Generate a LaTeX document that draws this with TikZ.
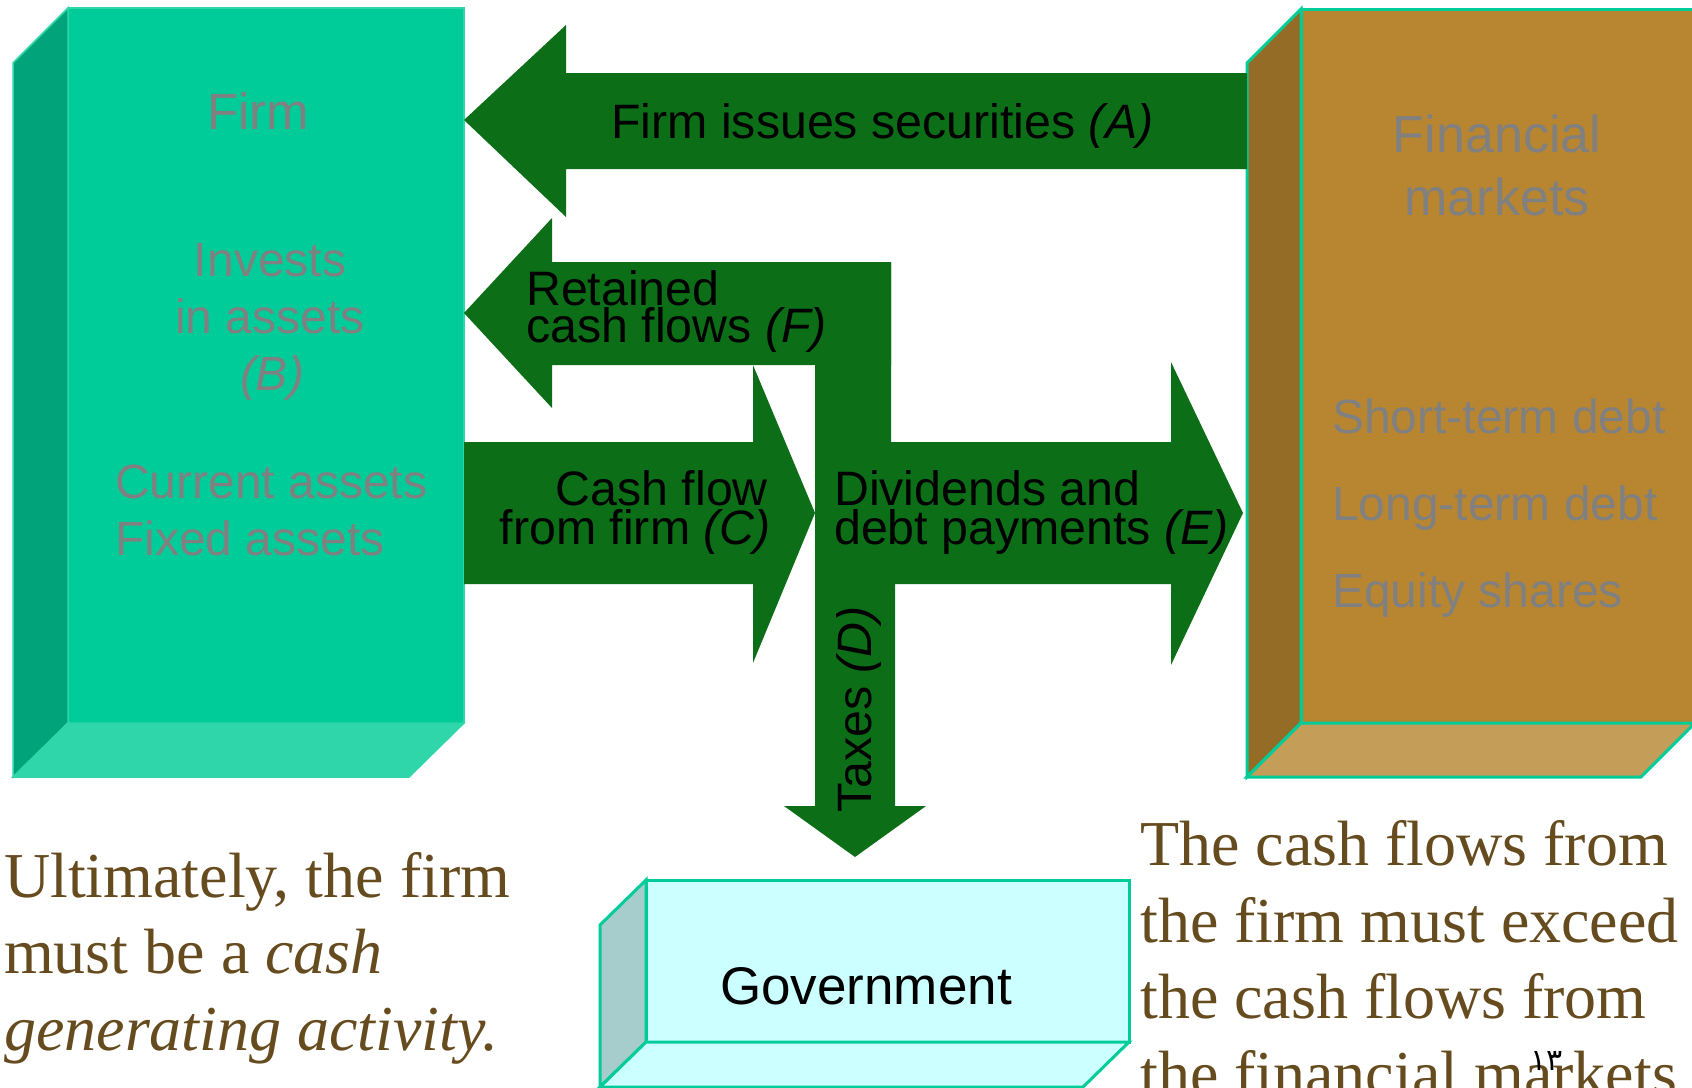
\documentclass[tikz,border=0pt]{standalone}
\usepackage{fontspec}
\setmainfont{Liberation Serif}
\newfontfamily\arialf{Liberation Sans}
\newfontfamily\arabicf[Script=Arabic]{DejaVu Sans}
\definecolor{arrgreen}{RGB}{12,110,22}
\definecolor{firmfront}{RGB}{0,204,153}
\definecolor{firmside}{RGB}{0,163,122}
\definecolor{firmbottom}{RGB}{46,214,170}
\definecolor{fmfront}{RGB}{184,134,48}
\definecolor{fmside}{RGB}{148,108,38}
\definecolor{fmbottom}{RGB}{196,158,88}
\definecolor{govfront}{RGB}{204,255,255}
\definecolor{govside}{RGB}{166,204,204}
\definecolor{tealline}{RGB}{0,204,153}
\definecolor{txtgray}{RGB}{128,128,128}
\definecolor{notebrown}{RGB}{101,75,30}
\tikzset{
  arr/.style={fill=arrgreen, draw=none},
  atxt/.style={font=\arialf\fontsize{48.3}{39}\selectfont, text=black, inner sep=0pt},
  gtxt/.style={font=\arialf\fontsize{48}{57}\selectfont, text=txtgray, inner sep=0pt},
  ntxt/.style={font=\fontsize{64}{77}\selectfont, text=notebrown, inner sep=0pt},
  firmedge/.style={draw=firmbottom, line width=1.5pt, line join=miter},
  tealedge/.style={draw=tealline, line width=3pt, line join=miter},
}
\begin{document}
\begin{tikzpicture}[x=1pt,y=-1pt]
\useasboundingbox (0,0) rectangle (1692,1087);
\begin{scope}
\clip (0,0) rectangle (1692,1087);
% ---------------- Firm box
\fill[firmfront] (68,8) rectangle (464,723);
\filldraw[fill=firmside, firmedge] (13,63) -- (68,8) -- (68,723) -- (13,777) -- cycle;
\filldraw[fill=firmbottom, firmedge] (13,777) -- (68,723) -- (464,723) -- (409,777) -- cycle;
\draw[firmedge] (68,8) -- (464,8) -- (464,723);
% ---------------- Financial markets box
\filldraw[fill=fmfront, tealedge] (1301,9) rectangle (1750,723);
\filldraw[fill=fmside, tealedge] (1247,63) -- (1301,9) -- (1301,723) -- (1247,777) -- cycle;
\filldraw[fill=fmbottom, tealedge] (1247,777) -- (1301,723) -- (1695,723) -- (1641,777) -- cycle;
% ---------------- Government box
\filldraw[fill=govfront, tealedge] (646,880) rectangle (1129,1042);
\filldraw[fill=govside, tealedge] (600,925) -- (646,880) -- (646,1042) -- (600,1087) -- cycle;
\filldraw[fill=govfront, tealedge] (600,1087) -- (646,1042) -- (1129,1042) -- (1083,1087) -- cycle;
% ---------------- Block arrows
\fill[arr] (1247,73) -- (566,73) -- (566,25) -- (464,120) -- (566,217) -- (566,169) -- (1247,169) -- cycle;
\fill[arr] (891,262) -- (552,262) -- (552,218) -- (464,313) -- (552,408) -- (552,365) -- (891,365) -- cycle;
\fill[arr] (815,262) -- (891,262) -- (891,584) -- (895,584) -- (895,806) -- (926,806) -- (855,857) -- (784,806) -- (815,806) -- cycle;
\fill[arr] (464,442) -- (753,442) -- (753,365) -- (815,513) -- (753,663) -- (753,584) -- (464,584) -- cycle;
\fill[arr] (815,442) -- (1171,442) -- (1171,362) -- (1243,513) -- (1171,665) -- (1171,584) -- (815,584) -- cycle;
% ---------------- Arrow labels
\node[atxt, anchor=base west] (tA) at (611,138) {Firm issues securities \textit{(A)}};
\node[atxt, anchor=base west] (tF1) at (526,305) {Retained};
\node[atxt, anchor=base west] (tF2) at (526,342) {cash flows \textit{(F)}};
\node[atxt, anchor=base east] (tC1) at (768,505) {Cash flow};
\node[atxt, anchor=base east] (tC2) at (771,544) {from firm \textit{(C)}};
\node[atxt, anchor=base west] (tE1) at (834,505) {Dividends and};
\node[atxt, anchor=base west] (tE2) at (834,544) {debt payments \textit{(E)}};
\node[atxt, anchor=base west, rotate=90] (tD) at (871,813) {Taxes \textit{(D)}};
\node[atxt, font=\arialf\fontsize{53}{60}\selectfont, anchor=base west] (gov) at (720,1004) {Government};
% ---------------- Box texts
\node[gtxt, font=\arialf\fontsize{51}{57}\selectfont, anchor=base] (firm) at (258,129) {Firm};
\node[gtxt, anchor=base] (inv1) at (270,276) {Invests};
\node[gtxt, anchor=base] (inv2) at (270,333) {in assets};
\node[gtxt, anchor=base] (inv3) at (272,390) {\textit{(B)}};
\node[gtxt, anchor=base west] (ca) at (115,498) {Current assets};
\node[gtxt, anchor=base west] (fa) at (115,555) {Fixed assets};
\node[gtxt, font=\arialf\fontsize{52}{63}\selectfont, anchor=base] (fm1) at (1497,152) {Financial};
\node[gtxt, font=\arialf\fontsize{52}{63}\selectfont, anchor=base] (fm2) at (1497,215) {markets};
\node[gtxt, anchor=base west] (std) at (1332,433) {Short-term debt};
\node[gtxt, anchor=base west] (ltd) at (1332,520) {Long-term debt};
\node[gtxt, anchor=base west] (eq) at (1332,607) {Equity shares};
% ---------------- Notes
\node[ntxt, anchor=base west] (n1) at (4,897) {Ultimately, the firm};
\node[ntxt, anchor=base west] (n2) at (4,973) {must be a \textit{cash}};
\node[ntxt, anchor=base west] (n3) at (4,1050) {\textit{generating activity.}};
\node[ntxt, anchor=base west] (m1) at (1140,865) {The cash flows from};
\node[ntxt, anchor=base west] (m2) at (1140,942) {the firm must exceed};
\node[ntxt, anchor=base west] (m3) at (1140,1018) {the cash flows from};
\node[ntxt, anchor=base west] (m4) at (1140,1095) {the financial markets};
\node[inner sep=0pt, anchor=base west, font=\arabicf\fontsize{30}{34}\selectfont, text=black] (pg) at (1530,1070) {١٣};
\end{scope}
\end{tikzpicture}
\end{document}
